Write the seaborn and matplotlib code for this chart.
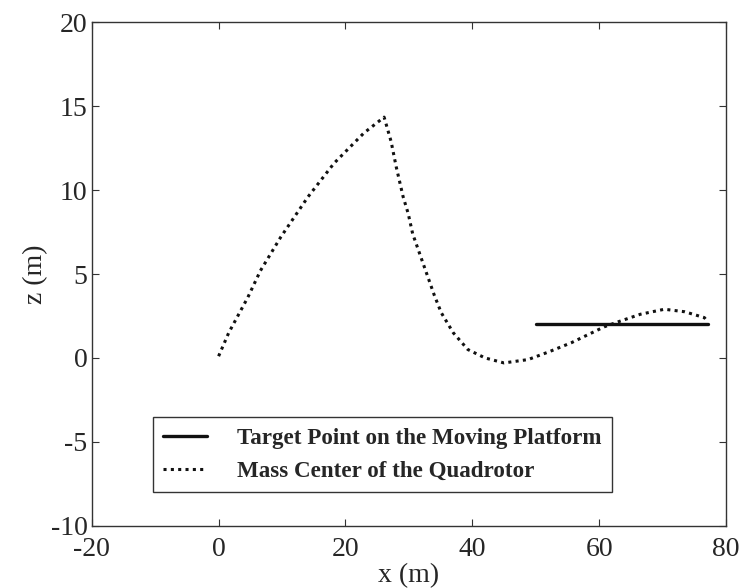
import pandas as pd
import seaborn as sns
import matplotlib.pyplot as plt

# trayectoria del centro de masa
quad_x = [0.0, 1.6, 4.6, 6.6, 9.8, 14.1, 18.2, 22.9, 26.1, 27.2, 28.0, 29.1, 29.9,
          30.6, 31.9, 34.0, 35.1, 37.0, 39.3, 42.0, 45.0, 48.8, 52.0, 55.6, 60.8,
          63.0, 66.5, 70.3, 73.5, 76.6, 76.9]
quad_z = [0.1, 1.5, 3.6, 5.2, 7.2, 9.6, 11.6, 13.4, 14.35, 12.9, 11.4, 9.6, 8.6,
          7.4, 6.0, 3.75, 2.7, 1.5, 0.5, 0.0, -0.3, -0.1, 0.35, 0.9, 1.85,
          2.15, 2.6, 2.9, 2.75, 2.4, 2.26]

# punto objetivo en la plataforma
target_x = [50.0, 77.2]
target_z = [2.0, 2.0]

df_quad = pd.DataFrame({"x": quad_x, "z": quad_z})
df_target = pd.DataFrame({"x": target_x, "z": target_z})

sns.set_style("ticks")
plt.rcParams["font.family"] = ["Liberation Serif", "DejaVu Serif"]
plt.rcParams["axes.unicode_minus"] = False

fig = plt.figure(figsize=(7.4, 5.88), dpi=100)
ax = fig.add_axes([0.124, 0.106, 0.857, 0.856])

sns.lineplot(data=df_target, x="x", y="z", ax=ax, color="#111111",
             linewidth=2.4, sort=False, label="Target Point on the Moving Platform")
sns.lineplot(data=df_quad, x="x", y="z", ax=ax, color="#111111",
             linewidth=2.2, linestyle=(0, (1, 1.4)), sort=False,
             label="Mass Center of the Quadrotor")

ax.set_xlim(-20, 80)
ax.set_ylim(-10, 20)
ax.set_xticks([-20, 0, 20, 40, 60, 80])
ax.set_yticks([-10, -5, 0, 5, 10, 15, 20])
ax.tick_params(direction="in", top=True, right=True, labelsize=20, length=5,
               width=0.8, color="#333333")
ax.tick_params(axis="x", pad=8)
ax.tick_params(axis="y", pad=3)
for s in ax.spines.values():
    s.set_color("#333333")
    s.set_linewidth(1.0)

ax.set_xlabel("x (m)", fontsize=20, labelpad=1)
ax.set_ylabel("z (m)", fontsize=20, labelpad=2)

leg = ax.legend(loc="lower left", bbox_to_anchor=(0.096, 0.067),
                fancybox=False, framealpha=1, edgecolor="#333333",
                prop={"weight": "bold", "size": 16.6}, handlelength=1.9,
                handletextpad=1.3, borderpad=0.45, labelspacing=0.5,
                borderaxespad=0)
leg.get_frame().set_linewidth(1.0)

fig.savefig("out.png", dpi=100)
